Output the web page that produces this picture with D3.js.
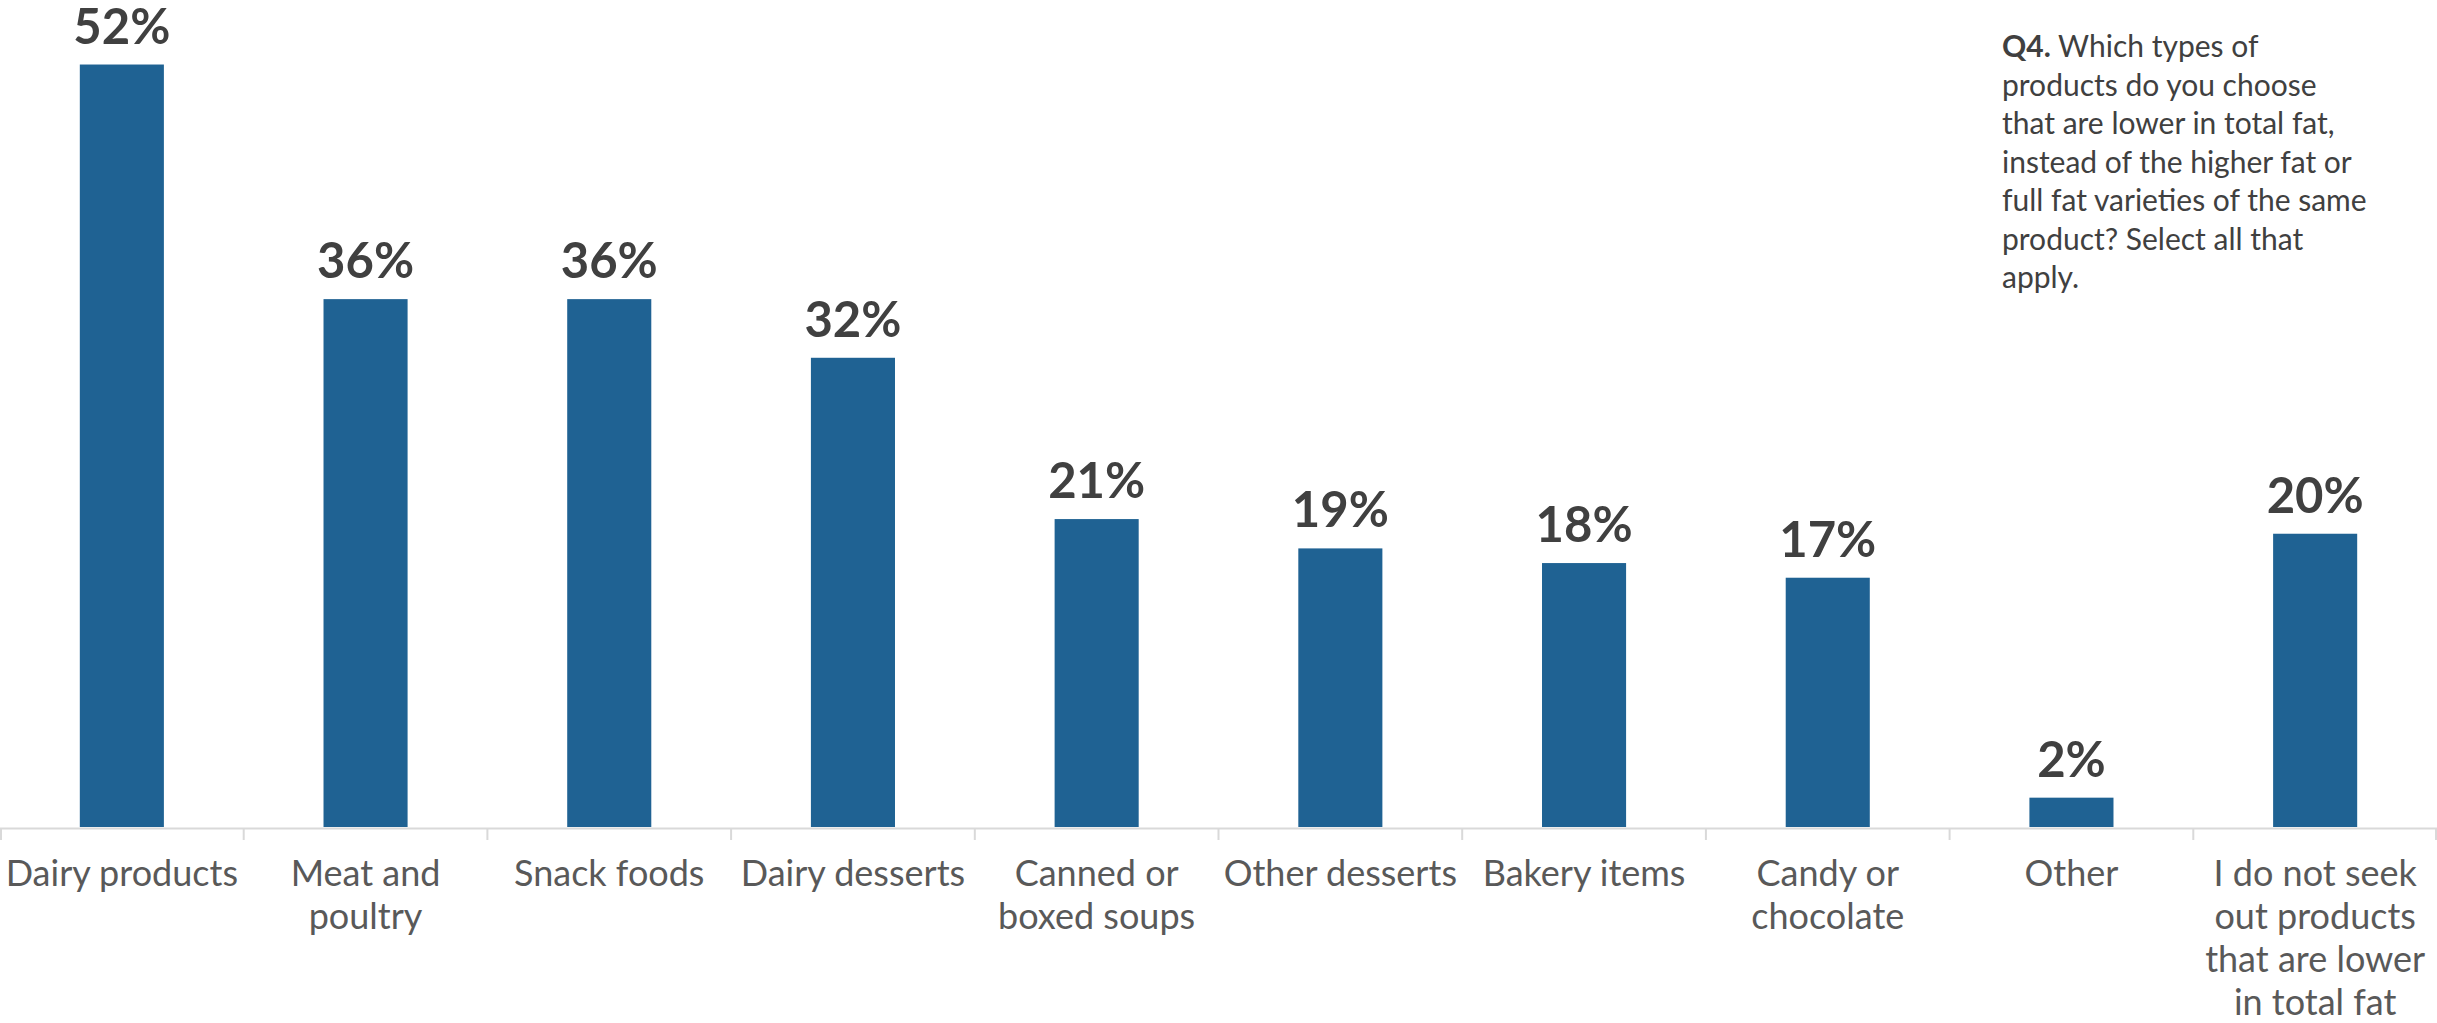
<!DOCTYPE html>
<html>
<head>
<meta charset="utf-8">
<script src="https://cdn.jsdelivr.net/npm/d3@7"></script>
<style>
  html, body { margin: 0; padding: 0; background: #fff; }
  svg { display: block; }
</style>
</head>
<body>
<svg id="chart"></svg>
<script>
// data
const categories = ["Dairy products", "Meat and poultry", "Snack foods", "Dairy desserts",
  "Canned or boxed soups", "Other desserts", "Bakery items", "Candy or chocolate",
  "Other", "I do not seek out products that are lower in total fat"]
const labelLines = [
  ["Dairy products"],
  ["Meat and", "poultry"],
  ["Snack foods"],
  ["Dairy desserts"],
  ["Canned or", "boxed soups"],
  ["Other desserts"],
  ["Bakery items"],
  ["Candy or", "chocolate"],
  ["Other"],
  ["I do not seek", "out products", "that are lower", "in total fat"]
]
const values = [52, 36, 36, 32, 21, 19, 18, 17, 2, 20]
const noteLines = [
  "Which types of",
  "products do you choose",
  "that are lower in total fat,",
  "instead of the higher fat or",
  "full fat varieties of the same",
  "product? Select all that",
  "apply."
]

const width = 2437
const height = 1023
const baseY = 827

const svg = d3.select("#chart")
  .attr("width", width)
  .attr("height", height)

const x = d3.scaleBand()
  .domain(categories)
  .range([0, width])
  .padding(0)

const y = d3.scaleLinear()
  .domain([0, 56.4])
  .range([baseY, 0])

const barW = x.bandwidth() * 0.345

// bars
svg.append("g")
  .selectAll("rect")
  .data(values)
  .enter()
  .append("rect")
  .attr("x", (d, i) => x(categories[i]) + (x.bandwidth() - barW) / 2)
  .attr("y", d => y(d))
  .attr("width", barW)
  .attr("height", d => y(0) - y(d))
  .attr("fill", "#1f6293")

// value labels
svg.append("g")
  .selectAll("text")
  .data(values)
  .enter()
  .append("text")
  .attr("x", (d, i) => x(categories[i]) + x.bandwidth() / 2)
  .attr("y", d => y(d) - 21)
  .attr("text-anchor", "middle")
  .attr("font-family", "Lato, sans-serif")
  .attr("font-weight", "bold")
  .attr("font-size", 49)
  .attr("fill", "#404040")
  .text(d => d + "%")

// axis line + ticks at band edges
const axis = svg.append("g")
axis.append("line")
  .attr("x1", 0).attr("x2", width)
  .attr("y1", baseY + 1.5).attr("y2", baseY + 1.5)
  .attr("stroke", "#d9d9d9")
  .attr("stroke-width", 2)

const edges = categories.map(c => x(c)).concat([width])
axis.selectAll(".tick")
  .data(edges)
  .enter()
  .append("line")
  .attr("class", "tick")
  .attr("x1", d => Math.min(Math.max(d, 1), width - 1))
  .attr("x2", d => Math.min(Math.max(d, 1), width - 1))
  .attr("y1", baseY + 1.5)
  .attr("y2", baseY + 13)
  .attr("stroke", "#d9d9d9")
  .attr("stroke-width", 2)

// category labels
const cat = svg.append("g")
  .selectAll("text")
  .data(labelLines)
  .enter()
  .append("text")
  .attr("text-anchor", "middle")
  .attr("font-family", "Lato, sans-serif")
  .attr("font-size", 36)
  .attr("fill", "#595959")

cat.selectAll("tspan")
  .data((d, i) => d.map(t => ({t: t, i: i})))
  .enter()
  .append("tspan")
  .attr("x", d => x(categories[d.i]) + x.bandwidth() / 2)
  .attr("y", (d, j) => 886 + j * 43)
  .text(d => d.t)

// question note, top right
const note = svg.append("text")
  .attr("font-family", "Lato, sans-serif")
  .attr("font-size", 30)
  .attr("fill", "#404040")

noteLines.forEach((line, i) => {
  if (i === 0) {
    note.append("tspan")
      .attr("x", 2002).attr("y", 57)
      .attr("font-weight", "bold")
      .text("Q4. ")
    note.append("tspan").text(line)
  } else {
    note.append("tspan")
      .attr("x", 2002)
      .attr("y", 57 + i * 38.5)
      .text(line)
  }
})
</script>
</body>
</html>
